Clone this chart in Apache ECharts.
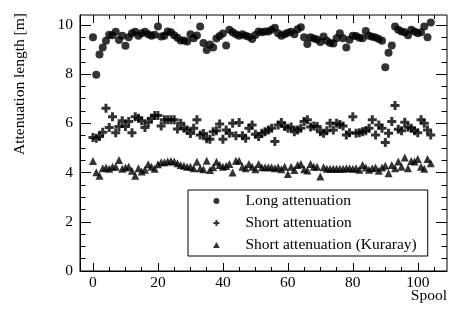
<!DOCTYPE html>
<html>
<head>
<meta charset="utf-8">
<script src="https://cdn.jsdelivr.net/npm/echarts@6/dist/echarts.min.js"></script>
<style>
html,body{margin:0;padding:0;background:#fff;}
#chart{width:470px;height:319px;}
</style>
</head>
<body>
<div id="chart"></div>
<script>
// Spool index 0..104
const spools = [];
for (let i = 0; i < 105; i++) spools.push(i);

const longAtt = [
  9.5, 7.97, 8.8, 9.08, 9.35, 9.6, 9.58, 9.72, 9.38, 9.56,
  9.15, 9.5, 9.66, 9.72, 9.56, 9.66, 9.72, 9.62, 9.56, 9.6,
  9.93, 9.53, 9.56, 9.73, 9.7, 9.58, 9.48, 9.36, 9.36, 9.32,
  9.62, 9.46, 9.57, 9.93, 9.26, 8.98, 9.2, 9.08, 9.45, 9.55,
  9.65, 9.16, 9.8, 9.7, 9.62, 9.56, 9.62, 9.56, 9.52, 9.43,
  9.59, 9.73, 9.7, 9.73, 9.73, 9.8, 9.88, 9.66, 9.56, 9.62,
  9.68, 9.72, 9.62, 9.82, 9.9, 9.5, 9.22, 9.5, 9.45, 9.4,
  9.3, 9.53, 9.35, 9.26, 9.24, 9.46, 9.66, 9.46, 9.08, 9.39,
  9.56, 9.55, 9.48, 9.46, 9.75, 9.56, 9.52, 9.49, 9.43, 9.35,
  8.28, 8.87, 9.16, 9.93, 9.8, 9.73, 9.7, 9.58, 9.8, 9.73,
  9.66, 9.7, 9.93, 9.5, 10.1
];
const shortAtt = [
  5.42, 5.39, 5.46, 5.64, 6.61, 5.83, 6.27, 5.62, 5.87, 6.10,
  5.87, 6.07, 5.62, 6.27, 6.21, 6.10, 5.83, 6.04, 6.21, 6.32,
  6.32, 5.89, 6.14, 6.14, 6.14, 6.14, 5.77, 6.0, 5.8, 5.73,
  5.59, 5.8, 6.14, 5.53, 5.59, 5.37, 5.35, 5.66, 5.7, 5.97,
  5.35, 5.73, 5.6, 6.0, 5.49, 6.03, 5.49, 5.39, 5.8, 5.93,
  5.56, 5.46, 5.6, 5.66, 5.73, 5.8, 5.26, 5.93, 6.03, 5.87,
  5.8, 5.85, 5.66, 5.73, 5.8, 6.07, 6.14, 5.85, 5.89, 5.87,
  5.66, 5.6, 5.7, 6.0, 5.73, 6.0, 5.95, 5.89, 5.53, 5.62,
  6.27, 5.6, 5.62, 5.66, 5.7, 5.8, 6.14, 5.53, 5.93, 5.8,
  5.22, 5.6, 6.07, 6.72, 5.76, 5.7, 6.04, 5.84, 5.8, 5.7,
  5.62, 6.14, 6.0, 5.73, 5.53
];
const kuraray = [
  4.47, 4.01, 3.87, 4.17, 4.2, 4.15, 4.24, 4.24, 4.51, 4.15,
  4.2, 4.24, 4.07, 3.87, 4.17, 4.04, 4.11, 4.34, 4.24, 4.15,
  4.34, 4.42, 4.42, 4.45, 4.47, 4.45, 4.38, 4.31, 4.28, 4.24,
  4.24, 4.17, 4.44, 4.17, 4.13, 4.48, 4.1, 4.21, 4.44, 4.31,
  4.24, 4.27, 4.35, 4.0, 4.48, 4.48, 4.24, 4.17, 4.35, 4.24,
  4.13, 4.35, 4.21, 4.21, 4.21, 4.21, 4.17, 4.21, 4.13, 4.24,
  3.94, 4.24, 4.1, 4.31, 4.35, 4.13, 4.08, 4.35, 4.24, 4.24,
  3.84, 4.21, 4.15, 4.15, 4.15, 4.15, 4.15, 4.15, 4.17, 4.17,
  4.15, 4.17, 4.11, 4.31, 4.2, 4.11, 4.17, 4.2, 4.07, 4.2,
  4.28, 3.97, 4.31, 4.17, 4.45, 4.24, 4.61, 4.17, 4.47, 4.45,
  4.55, 4.24, 4.15, 4.55, 4.38
];

const xMajor = [0, 20, 40, 60, 80, 100];
const xMinor = [5, 10, 15, 25, 30, 35, 45, 50, 55, 65, 70, 75, 85, 90, 95, 105];
const yMajor = [0, 2, 4, 6, 8, 10];
const yMinor = [0.5, 1, 1.5, 2.5, 3, 3.5, 4.5, 5, 5.5, 6.5, 7, 7.5, 8.5, 9, 9.5];

const seriesNames = ['Long attenuation', 'Short attenuation', 'Short attenuation (Kuraray)'];
const xTitle = 'Spool';
const yTitle = 'Attenuation length [m]';

const FONT = '"Liberation Serif", "Times New Roman", serif';
const X_MIN = -4, X_MAX = 109, Y_MIN = 0, Y_MAX = 10.4;

function pairs(vals) { return spools.map((s, i) => [s, vals[i]]); }

const PLUS = 'path://M3,0h3v3h3v3h-3v3h-3v-3h-3v-3h3z';
const TRI = 'path://M4,0L8,7L0,7z';

function xAx(pos, values, len, labels) {
  return {
    type: 'value', position: pos, min: X_MIN, max: X_MAX,
    axisLine: { show: labels, onZero: false, lineStyle: { color: '#000', width: 1 } },
    axisTick: { show: true, inside: true, length: len, customValues: values, lineStyle: { color: '#000', width: 1 } },
    axisLabel: { show: labels, customValues: values, color: '#000', fontFamily: FONT, fontSize: 15.5, margin: 4 },
    splitLine: { show: false }
  };
}
function yAx(pos, values, len, labels) {
  return {
    type: 'value', position: pos, min: Y_MIN, max: Y_MAX,
    axisLine: { show: labels, onZero: false, lineStyle: { color: '#000', width: 1 } },
    axisTick: { show: true, inside: true, length: len, customValues: values, lineStyle: { color: '#000', width: 1 } },
    axisLabel: { show: labels, customValues: values, color: '#000', fontFamily: FONT, fontSize: 15.5, margin: 7 },
    splitLine: { show: false }
  };
}

const chart = echarts.init(document.getElementById('chart'), null, { renderer: 'canvas' });
chart.setOption({
  animation: false,
  backgroundColor: '#fff',
  grid: { left: 80, right: 23, top: 15, bottom: 48, show: true, borderColor: '#000', borderWidth: 1, backgroundColor: 'transparent' },
  xAxis: [
    xAx('bottom', xMajor, 8, true),
    xAx('bottom', xMinor, 4, false),
    xAx('top', xMajor, 8, false),
    xAx('top', xMinor, 4, false)
  ],
  yAxis: [
    yAx('left', yMajor, 11, true),
    yAx('left', yMinor, 5.5, false),
    yAx('right', yMajor, 11, false),
    yAx('right', yMinor, 5.5, false)
  ],
  legend: {
    orient: 'vertical', left: 188, top: 190,
    padding: [3, 11, 3, 25], itemGap: 6,
    itemWidth: 10, itemHeight: 6,
    backgroundColor: '#fff', borderColor: '#000', borderWidth: 1,
    textStyle: { color: '#000', fontFamily: FONT, fontSize: 15.5, padding: [0, 0, 0, 19] },
    data: seriesNames
  },
  graphic: [
    { type: 'text', x: 447, y: 296, style: { text: xTitle, align: 'right', verticalAlign: 'middle', font: '15.5px ' + FONT, fill: '#000' } },
    { type: 'text', x: 20, y: 13, rotation: Math.PI / 2, style: { text: yTitle, align: 'right', verticalAlign: 'middle', font: '15.5px ' + FONT, fill: '#000' } }
  ],
  series: [
    { name: seriesNames[0], type: 'scatter', symbol: 'circle', symbolSize: 8, itemStyle: { color: '#000' }, data: pairs(longAtt) },
    { name: seriesNames[1], type: 'scatter', symbol: PLUS, symbolSize: 9, itemStyle: { color: '#000' }, data: pairs(shortAtt) },
    { name: seriesNames[2], type: 'scatter', symbol: TRI, symbolSize: 8, itemStyle: { color: '#000' }, data: pairs(kuraray) }
  ]
});
</script>
</body>
</html>
